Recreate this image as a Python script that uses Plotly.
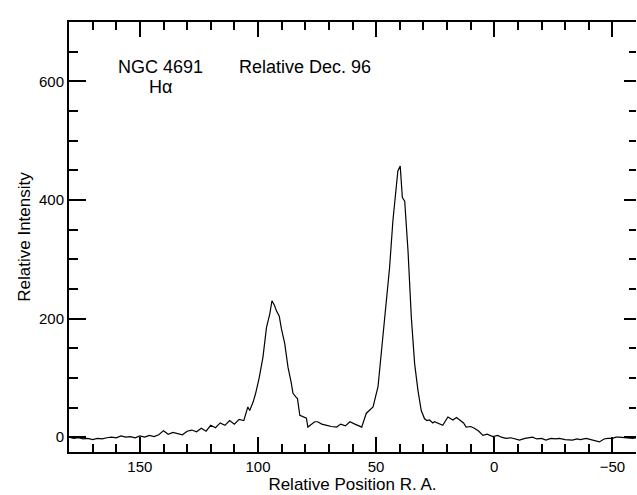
import plotly.graph_objects as go

# Relative position R.A. (x) and relative intensity (y)
pos = [180, 178, 176, 174, 172, 170, 168, 166, 164, 162, 160, 158, 156, 154, 152,
       150, 148, 146, 144, 142, 140, 138, 136, 134, 132, 130, 128, 126, 124, 122,
       120, 118, 116, 114, 112, 110, 108, 106, 104.3, 103.5, 102, 101, 99.5, 97.9,
       96.4, 95, 94.1, 93, 92.2, 91, 90.1, 88.7, 87.3, 85.9, 85.2, 84, 83.3, 82.3,
       81, 79.5, 78.9, 77.5, 76, 74.8, 73, 70.9, 69, 66.7, 65, 63, 61.1, 59, 57.5,
       56.1, 54.2, 52.5, 51.3, 49.2, 47.8, 45.7, 44.3, 42.9, 41.5, 40.8, 39.8,
       38.9, 37.9, 36.5, 35.1, 33.7, 32.3, 30.9, 29.5, 28.5, 27.4, 26, 25.3, 23.2,
       21.8, 19.6, 17.5, 16, 14.7, 13, 11.9, 10, 8.4, 6.5, 4.8, 3, 0.6, -1.5, -3,
       -5, -7, -9, -10.7, -13, -16.2, -18, -20, -21.9, -24, -26, -27.6, -30, -33.1,
       -35, -36.5, -38.9, -41, -42.5, -44.5, -46.5, -48, -50.1, -51.5, -52.9, -55,
       -56.5, -58.6, -60]
intensity = [0, -2, -1, -3, -2, -4, -2, -3, -1, 0, -1, 2, 0, 1, -1,
             2, 0, 3, 1, 4, 11, 5, 8, 6, 4, 10, 12, 9, 15, 10,
             20, 16, 24, 20, 28, 22, 30, 28, 51, 45, 60, 74, 100, 135,
             185, 208, 230, 222, 213, 204, 183, 158, 118, 91, 74, 68, 65, 37,
             35, 32, 17, 22, 26, 26, 22, 20, 18, 17, 22, 19, 26, 22, 20,
             17, 40, 47, 51, 85, 146, 230, 286, 365, 415, 449, 457,
             404, 398, 314, 202, 124, 79, 45, 31, 28, 29, 24, 26, 23,
             20, 34, 29, 33, 29, 24, 17, 18, 15, 10, 3, 5, 1, 3, 0,
             -2, -1, -3, -5, -2, 0, -3, -2, -5, -2, -3, -2, -4, -5,
             -3, -4, -2, -4, -6, -8, -3, -2, -2, 0, 0, -1,
             -2, -2, -1]

x_range = [180, -60]
y_range = [-25, 700]

FONT = "Liberation Sans"

fig = go.Figure()
fig.add_trace(go.Scatter(x=pos, y=intensity, mode="lines",
                         line=dict(color="black", width=1.2),
                         showlegend=False, hoverinfo="skip"))
# helper trace so the right-hand tick axis is drawn
fig.add_trace(go.Scatter(x=[0], y=[0], yaxis="y2", mode="lines",
                         opacity=0, showlegend=False, hoverinfo="skip"))

fig.update_layout(
    width=637, height=495,
    margin=dict(l=69, r=1, t=22, b=43),
    paper_bgcolor="white", plot_bgcolor="white",
    font=dict(family=FONT, color="black", size=15),
    xaxis=dict(
        range=x_range, showgrid=False, zeroline=False,
        showline=True, linecolor="black", linewidth=2, mirror="ticks",
        ticks="inside", ticklen=15, tickwidth=2, tickcolor="black",
        tick0=0, dtick=50,
        minor=dict(ticks="inside", ticklen=8, tickwidth=2, tickcolor="black",
                   dtick=10, tick0=0, showgrid=False),
        tickfont=dict(size=15),
        title=dict(text="Relative Position R. A.", font=dict(size=17), standoff=2),
    ),
    yaxis=dict(
        range=y_range, showgrid=False, zeroline=False,
        showline=True, linecolor="black", linewidth=2,
        ticks="inside", ticklen=17, tickwidth=2, tickcolor="black",
        tick0=0, dtick=200,
        minor=dict(ticks="inside", ticklen=9, tickwidth=2, tickcolor="black",
                   dtick=50, tick0=0, showgrid=False),
        tickfont=dict(size=15),
        title=dict(text="Relative Intensity", font=dict(size=17), standoff=4),
    ),
    yaxis2=dict(
        range=y_range, overlaying="y", side="right", showgrid=False,
        zeroline=False, showline=False, showticklabels=False,
        ticks="inside", ticklen=12, tickwidth=2, tickcolor="black",
        tick0=0, dtick=200,
        minor=dict(ticks="inside", ticklen=7, tickwidth=2, tickcolor="black",
                   dtick=50, tick0=0, showgrid=False),
    ),
    annotations=[
        dict(x=0.162, y=0.895, xref="paper", yref="paper", text="NGC 4691",
             showarrow=False, font=dict(size=18), xanchor="center", yanchor="middle"),
        dict(x=0.162, y=0.85, xref="paper", yref="paper", text="Hα",
             showarrow=False, font=dict(size=18), xanchor="center", yanchor="middle"),
        dict(x=0.416, y=0.895, xref="paper", yref="paper", text="Relative Dec. 96",
             showarrow=False, font=dict(size=18), xanchor="center", yanchor="middle"),
    ],
)

fig.write_html("out.html")
